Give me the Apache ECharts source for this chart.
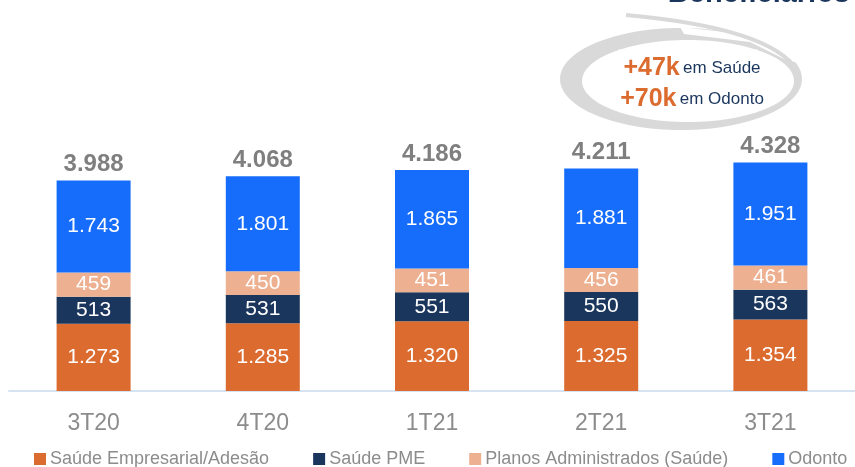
<!DOCTYPE html>
<html>
<head>
<meta charset="utf-8">
<script src="https://cdn.jsdelivr.net/npm/echarts@6/dist/echarts.min.js"></script>
<style>
  html, body { margin: 0; padding: 0; background: #fff; }
  #chart { width: 855px; height: 467px; }
</style>
</head>
<body>
<div id="chart"></div>
<script>
// data
const quarters = ['3T20', '4T20', '1T21', '2T21', '3T21'];
const empresarial = [1273, 1285, 1320, 1325, 1354];
const pme = [513, 531, 551, 550, 563];
const administrados = [459, 450, 451, 456, 461];
const odonto = [1743, 1801, 1865, 1881, 1951];
const totals = [3988, 4068, 4186, 4211, 4328];

const fmt = n => String(n).replace(/\B(?=(\d{3})+(?!\d))/g, '.');

const chart = echarts.init(document.getElementById('chart'));

const FONT = 'Liberation Sans, Arial, sans-serif';

const segLabel = {
  show: true,
  position: 'inside',
  color: '#fff',
  fontSize: 21,
  fontFamily: FONT,
  formatter: p => fmt(p.value)
};

function seg(name, data, color) {
  return {
    name: name,
    type: 'bar',
    stack: 'total',
    barWidth: 74,
    data: data,
    itemStyle: { color: color },
    label: segLabel
  };
}

const option = {
  animation: false,
  grid: { left: 9, right: -7, top: 127, bottom: 76 },
  xAxis: {
    type: 'category',
    data: quarters,
    axisLine: { lineStyle: { color: '#d5e3f3', width: 2 } },
    axisTick: { show: false },
    axisLabel: {
      color: '#8c8c8c',
      fontSize: 23,
      margin: 21,
      fontFamily: FONT
    }
  },
  yAxis: {
    type: 'value',
    min: 0,
    max: 5000,
    show: false,
    splitLine: { show: false }
  },
  legend: {
    data: ['Saúde Empresarial/Adesão', 'Saúde PME', 'Planos Administrados (Saúde)', 'Odonto'],
    left: 29,
    top: 445,
    icon: 'rect',
    itemWidth: 12,
    itemHeight: 12,
    itemGap: 44,
    textStyle: {
      color: '#8c8c8c',
      fontSize: 18,
      fontFamily: FONT,
      padding: [0, 0, 0, -1]
    }
  },
  series: [
    seg('Saúde Empresarial/Adesão', empresarial, '#dc6b2f'),
    seg('Saúde PME', pme, '#1b365d'),
    seg('Planos Administrados (Saúde)', administrados, '#edb091'),
    seg('Odonto', odonto, '#166dfb'),
    {
      name: 'Total',
      type: 'bar',
      stack: 'total',
      barWidth: 74,
      data: totals.map(() => 0),
      itemStyle: { color: 'transparent' },
      label: {
        show: true,
        position: 'top',
        distance: 4,
        color: '#7f7f7f',
        fontSize: 24,
        fontWeight: 'bold',
        fontFamily: FONT,
        formatter: p => fmt(totals[p.dataIndex])
      }
    }
  ],
  graphic: [
    {
      type: 'text',
      right: 5,
      top: -21,
      style: {
        text: 'Beneficiários',
        fill: '#1b365d',
        font: 'bold 29px ' + FONT
      }
    },
    {
      type: 'ellipse',
      shape: { cx: 681, cy: 79, rx: 121, ry: 51 },
      style: { fill: '#d9d9d9' }
    },
    {
      type: 'ellipse',
      shape: { cx: 688, cy: 81, rx: 106, ry: 41 },
      style: { fill: '#fff' }
    },
    {
      type: 'polygon',
      shape: { points: [[680, 27], [760, 36], [800, 62], [790, 62], [750, 42], [684, 34]] },
      style: { fill: '#fff' }
    },
    {
      type: 'bezierCurve',
      shape: { x1: 626, y1: 15, cpx1: 770, cpy1: 28, x2: 797, y2: 70 },
      style: { stroke: '#d9d9d9', lineWidth: 4, fill: null }
    },
    {
      type: 'text',
      x: 692,
      y: 68,
      style: {
        text: '{b|+47k} {s|em Saúde}',
        align: 'center',
        verticalAlign: 'middle',
        rich: {
          b: { fill: '#dc6b2f', font: 'bold 25px ' + FONT },
          s: { fill: '#1b365d', font: '17px ' + FONT }
        }
      }
    },
    {
      type: 'text',
      x: 692,
      y: 99,
      style: {
        text: '{b|+70k} {s|em Odonto}',
        align: 'center',
        verticalAlign: 'middle',
        rich: {
          b: { fill: '#dc6b2f', font: 'bold 25px ' + FONT },
          s: { fill: '#1b365d', font: '17px ' + FONT }
        }
      }
    }
  ]
};

chart.setOption(option);
</script>
</body>
</html>
